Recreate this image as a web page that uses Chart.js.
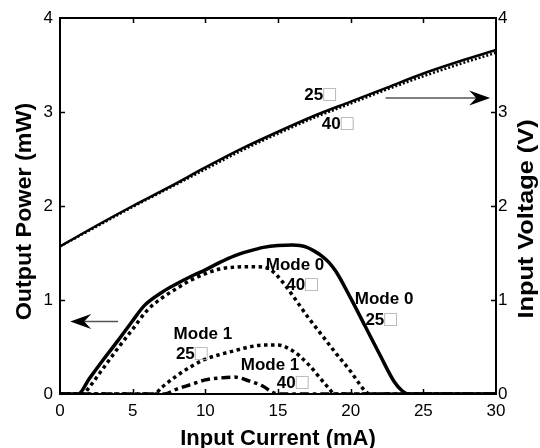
<!DOCTYPE html>
<html>
<head>
<meta charset="utf-8">
<script src="https://cdn.jsdelivr.net/npm/chart.js@4"></script>
<style>
html, body { margin: 0; padding: 0; background: #fff; }
#wrap { width: 540px; height: 448px; }
</style>
</head>
<body>
<div id="wrap"><canvas id="chart" width="540" height="448"></canvas></div>
<script>
// ---- data ----
// input voltage (right axis, V)
const voltCurrent = [0, 2.5, 5, 7.5, 10, 12.5, 15, 17.5, 20, 22.5, 25, 27.5, 30];
const volt25 = [1.57, 1.79, 2.00, 2.20, 2.41, 2.61, 2.79, 2.96, 3.11, 3.26, 3.41, 3.54, 3.66];
const volt40 = [1.57, 1.78, 1.99, 2.19, 2.39, 2.59, 2.77, 2.94, 3.09, 3.24, 3.38, 3.51, 3.63];

// output power (left axis, mW)
const mode0Current25 = [0, 1.25, 2, 3, 4, 5, 5.8, 7, 8, 9, 10, 11, 12, 13, 14, 15, 16, 16.5, 17, 17.5, 18, 18.5, 19, 20, 21, 22, 23, 23.5, 24, 30];
const mode0Power25 = [0, 0, 0.16, 0.37, 0.57, 0.78, 0.94, 1.08, 1.17, 1.25, 1.32, 1.40, 1.47, 1.52, 1.56, 1.58, 1.585, 1.58, 1.56, 1.52, 1.47, 1.40, 1.30, 1.02, 0.72, 0.42, 0.13, 0.04, 0, 0];

const mode0Current40 = [0, 1.6, 2, 3, 4, 5, 6, 7, 8, 9, 10, 11, 12, 13, 14, 14.5, 15, 16, 17, 18, 19, 20, 20.5, 21, 21.3, 30];
const mode0Power40 = [0, 0, 0.07, 0.28, 0.49, 0.69, 0.89, 1.02, 1.12, 1.21, 1.28, 1.33, 1.35, 1.355, 1.35, 1.32, 1.25, 1.05, 0.83, 0.63, 0.43, 0.24, 0.13, 0.03, 0, 0];

const mode1Current25 = [0, 6.5, 7, 8, 9, 10, 11, 12, 13, 14, 15, 16, 17, 18, 18.5, 18.9, 30];
const mode1Power25 = [0, 0, 0.07, 0.19, 0.29, 0.37, 0.42, 0.46, 0.50, 0.52, 0.52, 0.46, 0.33, 0.15, 0.06, 0, 0];

const mode1Current40 = [0, 7.2, 8, 9, 10, 11, 12, 13, 14, 14.5, 15, 30];
const mode1Power40 = [0, 0, 0.05, 0.10, 0.15, 0.17, 0.18, 0.14, 0.08, 0.03, 0, 0];

// axes
const xRange = [0, 30];
const xStep = 5;
const yRange = [0, 4];
const yStep = 1;
const xTitle = 'Input Current (mA)';
const yTitle = 'Output Power (mW)';
const y2Title = 'Input Voltage (V)';

// in-plot labels: [main text, gray mark, current, value, axis]
const curveLabels = [
    ['25', '\u25A1', 17.9, 3.18, 'y2'],
    ['40', '\u25A1', 19.1, 2.87, 'y2'],
    ['Mode 0', '', 16.17, 1.37, 'y'],
    ['40', '\u25A1', 16.65, 1.16, 'y'],
    ['Mode 0', '', 22.3, 1.01, 'y'],
    ['25', '\u25A1', 22.1, 0.78, 'y'],
    ['Mode 1', '', 9.83, 0.63, 'y'],
    ['25', '\u25A1', 9.06, 0.42, 'y'],
    ['Mode 1', '', 14.45, 0.31, 'y'],
    ['40', '\u25A1', 16.0, 0.11, 'y']
];

// axis arrows: [from current, to current, value, axis]
const axisArrows = [
    [4.0, 0.7, 0.77, 'y'],
    [22.4, 29.6, 3.15, 'y2']
];

const FONT = '"Liberation Sans", Arial, sans-serif';

function pts(xs, ys) {
    return xs.map((x, i) => ({ x: x, y: ys[i] }));
}

function lineSet(label, xs, ys, axis, width, dash) {
    return {
        label: label,
        data: pts(xs, ys),
        yAxisID: axis,
        borderColor: '#000',
        borderWidth: width,
        borderDash: dash,
        borderCapStyle: 'butt',
        pointRadius: 0,
        fill: false,
        cubicInterpolationMode: 'monotone'
    };
}

// frame, inward ticks, titles, labels, arrows
const decorPlugin = {
    id: 'decor',
    afterDraw(chart) {
        const ctx = chart.ctx;
        const a = chart.chartArea;
        const sx = chart.scales.x;
        const sy = chart.scales.y;

        ctx.save();
        ctx.strokeStyle = '#000';

        // inward tick marks on all four sides
        ctx.lineWidth = 1.5;
        ctx.beginPath();
        for (let v = xRange[0] + xStep; v < xRange[1]; v += xStep) {
            const px = Math.round(sx.getPixelForValue(v)) + 0.5;
            ctx.moveTo(px, a.top); ctx.lineTo(px, a.top + 5);
            ctx.moveTo(px, a.bottom); ctx.lineTo(px, a.bottom - 5);
        }
        for (let v = yRange[0] + yStep; v < yRange[1]; v += yStep) {
            const py = Math.round(sy.getPixelForValue(v)) + 0.5;
            ctx.moveTo(a.left, py); ctx.lineTo(a.left + 5, py);
            ctx.moveTo(a.right, py); ctx.lineTo(a.right - 5, py);
        }
        ctx.stroke();

        // box
        ctx.lineWidth = 2;
        ctx.strokeRect(a.left, a.top, a.right - a.left, a.bottom - a.top);

        // arrows
        axisArrows.forEach(([x1, x2, v, axis]) => {
            const ys = chart.scales[axis];
            const p1 = sx.getPixelForValue(x1);
            const p2 = sx.getPixelForValue(x2);
            const py = ys.getPixelForValue(v);
            const dir = Math.sign(p2 - p1);
            ctx.strokeStyle = '#555';
            ctx.lineWidth = 1.5;
            ctx.beginPath();
            ctx.moveTo(p1, py);
            ctx.lineTo(p2 - dir * 10, py);
            ctx.stroke();
            ctx.fillStyle = '#000';
            ctx.beginPath();
            ctx.moveTo(p2, py);
            ctx.lineTo(p2 - dir * 21, py - 7.5);
            ctx.lineTo(p2 - dir * 14, py);
            ctx.lineTo(p2 - dir * 21, py + 7.5);
            ctx.closePath();
            ctx.fill();
        });

        // curve labels
        ctx.textBaseline = 'middle';
        ctx.textAlign = 'left';
        curveLabels.forEach(([main, mark, x, v, axis]) => {
            const px = sx.getPixelForValue(x);
            const py = chart.scales[axis].getPixelForValue(v);
            ctx.font = 'bold 17px ' + FONT;
            const w1 = ctx.measureText(main).width;
            ctx.font = '21px ' + FONT;
            const w2 = mark ? ctx.measureText(mark).width : 0;
            const x0 = px - (w1 + w2) / 2;
            ctx.font = 'bold 17px ' + FONT;
            ctx.fillStyle = '#000';
            ctx.fillText(main, x0, py);
            if (mark) {
                ctx.font = '21px ' + FONT;
                ctx.fillStyle = '#aaa';
                ctx.fillText(mark, x0 + w1, py);
            }
        });

        // axis titles
        ctx.fillStyle = '#000';
        ctx.font = 'bold 22px ' + FONT;
        ctx.textAlign = 'center';
        ctx.textBaseline = 'alphabetic';
        ctx.fillText(xTitle, (a.left + a.right) / 2, 445);

        ctx.save();
        ctx.translate(31, 211.5);
        ctx.rotate(-Math.PI / 2);
        ctx.scale(1.06, 1);
        ctx.fillText(yTitle, 0, 0);
        ctx.restore();

        ctx.save();
        ctx.translate(533, 219);
        ctx.rotate(-Math.PI / 2);
        ctx.scale(1.15, 1);
        ctx.fillText(y2Title, 0, 0);
        ctx.restore();

        ctx.restore();
    }
};

const tickFont = { family: FONT, size: 17 };

new Chart(document.getElementById('chart'), {
    type: 'line',
    data: {
        datasets: [
            lineSet('V 25', voltCurrent, volt25, 'y2', 2.5, []),
            lineSet('V 40', voltCurrent, volt40, 'y2', 2.5, [2, 2]),
            lineSet('Mode 0 25', mode0Current25, mode0Power25, 'y', 3.5, []),
            lineSet('Mode 0 40', mode0Current40, mode0Power40, 'y', 3.5, [3.5, 3.5]),
            lineSet('Mode 1 25', mode1Current25, mode1Power25, 'y', 3.5, [3.5, 3.5]),
            lineSet('Mode 1 40', mode1Current40, mode1Power40, 'y', 3.5, [9, 4, 3.5, 4])
        ]
    },
    options: {
        responsive: false,
        animation: false,
        layout: { padding: { top: 18, left: 0, right: 0, bottom: 0 } },
        plugins: {
            legend: { display: false },
            tooltip: { enabled: false }
        },
        scales: {
            x: {
                type: 'linear',
                min: xRange[0],
                max: xRange[1],
                grid: { display: false, drawTicks: false },
                border: { display: false },
                ticks: { stepSize: xStep, padding: 7, color: '#000', font: tickFont, maxRotation: 0 },
                afterFit: s => { s.height = 54; }
            },
            y: {
                position: 'left',
                min: yRange[0],
                max: yRange[1],
                grid: { display: false, drawTicks: false },
                border: { display: false },
                ticks: { stepSize: yStep, padding: 7, color: '#000', font: tickFont },
                afterFit: s => { s.width = 60; }
            },
            y2: {
                position: 'right',
                min: yRange[0],
                max: yRange[1],
                grid: { display: false, drawTicks: false },
                border: { display: false },
                ticks: { stepSize: yStep, padding: 2, color: '#000', font: tickFont },
                afterFit: s => { s.width = 44; }
            }
        }
    },
    plugins: [decorPlugin]
});
</script>
</body>
</html>
